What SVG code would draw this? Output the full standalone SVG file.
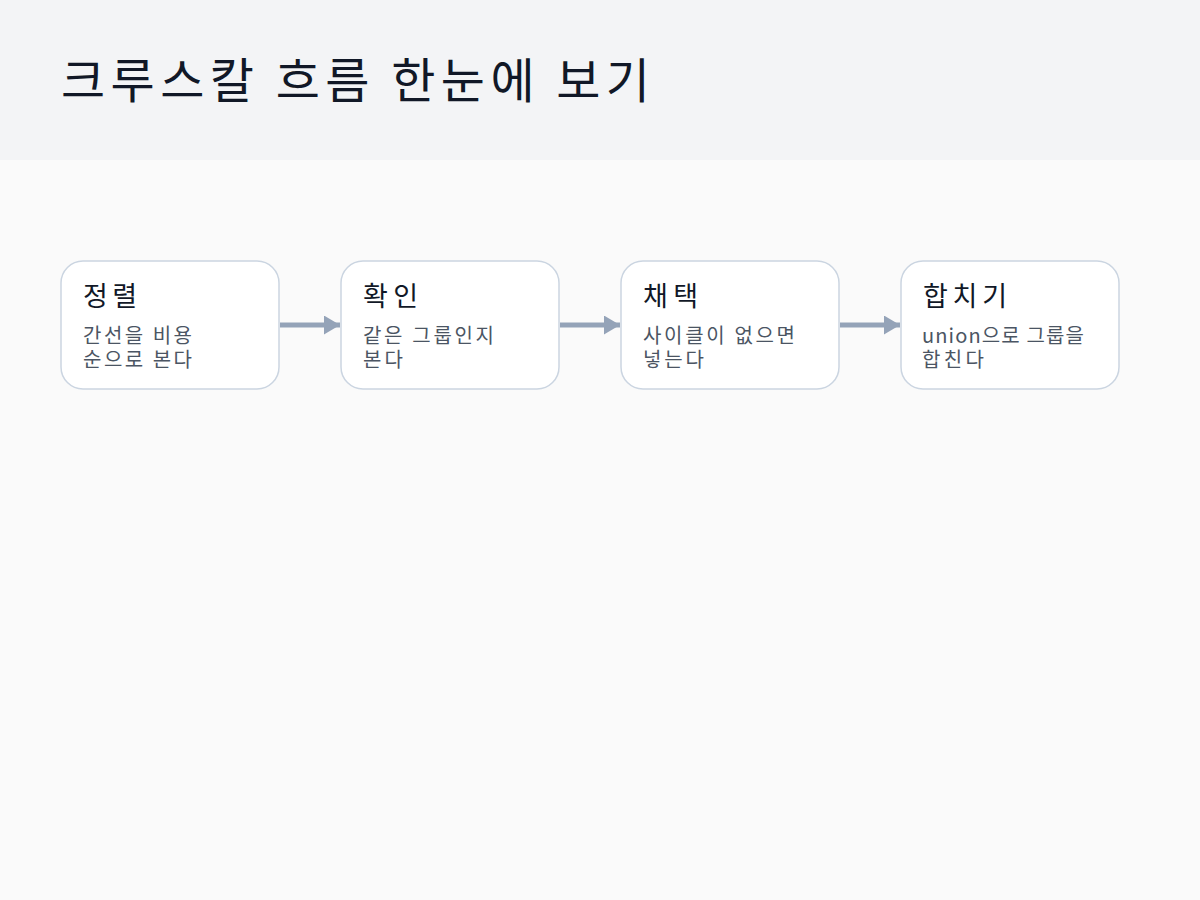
<svg xmlns="http://www.w3.org/2000/svg" width="1200" height="900" viewBox="0 0 1200 900">
<defs>
<style>
.box{fill:#ffffff;stroke:#cbd5e1;stroke-width:1.5}
.t{font-family:"Noto Sans CJK KR","Noto Sans",sans-serif;font-size:27px;fill:#111827}
.d{font-family:"Noto Sans CJK KR","Noto Sans",sans-serif;font-size:20px;fill:#4b5563}
.c{stroke:#94a3b8;stroke-width:5;fill:none}
</style>
<marker id="ah" markerWidth="16" markerHeight="19" refX="16" refY="9.5" orient="auto" markerUnits="userSpaceOnUse" viewBox="0 0 16 19">
<path d="M0,0 L16,9.5 L0,19 Z" fill="#94a3b8"/>
</marker>
</defs>
<rect x="0" y="0" width="1200" height="900" fill="#fafafa"/>
<rect x="0" y="0" width="1200" height="160" fill="#f3f4f6"/>
<text x="61" y="98" font-family="'Noto Sans CJK KR','Noto Sans',sans-serif" font-size="48" fill="#111827" textLength="589" lengthAdjust="spacing">크루스칼 흐름 한눈에 보기</text>
<g id="connectors">
<line class="c" x1="280" y1="325" x2="340" y2="325" marker-end="url(#ah)"/>
<line class="c" x1="560" y1="325" x2="620" y2="325" marker-end="url(#ah)"/>
<line class="c" x1="840" y1="325" x2="900" y2="325" marker-end="url(#ah)"/>
</g>
<g id="n1">
<rect class="box" x="61" y="261" width="218" height="128" rx="22"/>
<text class="t" x="83" y="306" textLength="54" lengthAdjust="spacing">정렬</text>
<text class="d" x="83" y="343" textLength="109" lengthAdjust="spacing">간선을 비용</text>
<text class="d" x="83" y="367" textLength="109" lengthAdjust="spacing">순으로 본다</text>
</g>
<g id="n2">
<rect class="box" x="341" y="261" width="218" height="128" rx="22"/>
<text class="t" x="363" y="306" textLength="55" lengthAdjust="spacing">확인</text>
<text class="d" x="363" y="343" textLength="131" lengthAdjust="spacing">같은 그룹인지</text>
<text class="d" x="363" y="367" textLength="40" lengthAdjust="spacing">본다</text>
</g>
<g id="n3">
<rect class="box" x="621" y="261" width="218" height="128" rx="22"/>
<text class="t" x="643" y="306" textLength="55" lengthAdjust="spacing">채택</text>
<text class="d" x="643" y="343" textLength="152" lengthAdjust="spacing">사이클이 없으면</text>
<text class="d" x="643" y="367" textLength="61" lengthAdjust="spacing">넣는다</text>
</g>
<g id="n4">
<rect class="box" x="901" y="261" width="218" height="128" rx="22"/>
<text class="t" x="923" y="306" textLength="84" lengthAdjust="spacing">합치기</text>
<text class="d" x="922" y="343" textLength="162" lengthAdjust="spacing">union으로 그룹을</text>
<text class="d" x="922" y="367" textLength="62" lengthAdjust="spacing">합친다</text>
</g>
</svg>
